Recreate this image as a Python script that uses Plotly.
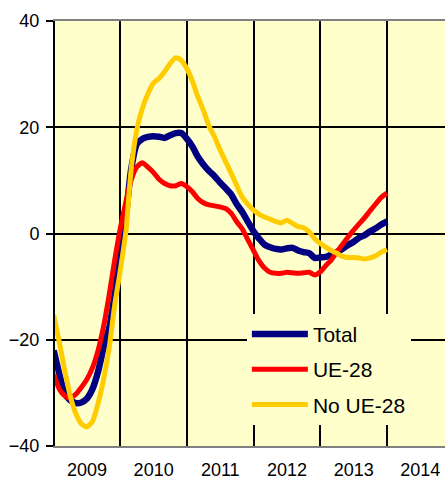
import pandas as pd
import plotly.graph_objects as go

# monthly, Jan 2009 .. Jan 2014
MONTHS = pd.date_range("2009-01-01", "2014-01-01", freq="MS")

TOTAL = [
    -22.0, -26.5, -30.0, -31.4, -31.9, -31.8, -31.1, -29.3, -26.0, -21.5,
    -17.8, -11.5, -4.0, 3.5, 12.0, 16.8, 17.8, 18.2, 18.3, 18.2,
    18.0, 18.5, 18.9, 18.9, 17.8, 16.3, 14.5, 13.0, 11.8, 10.8,
    9.6, 8.5, 7.3, 5.5, 4.0, 2.2, 0.4, -1.0, -2.1, -2.6,
    -2.9, -3.0, -2.8, -2.7, -3.2, -3.5, -3.7, -4.6, -4.5, -4.4,
    -4.0, -3.5, -2.9, -2.2, -1.6, -0.8, -0.3, 0.4, 1.0, 1.7,
    2.3,
]
UE28 = [
    -26.5, -29.3, -30.5, -31.0, -30.3, -29.0, -27.5, -25.3, -22.0, -17.5,
    -11.5, -5.0, 1.0, 6.0, 10.0, 12.5, 13.3, 12.5, 11.5, 10.2,
    9.4, 9.0, 9.0, 9.4, 8.8, 7.8, 6.6, 5.8, 5.4, 5.2,
    5.0, 4.7, 3.8, 2.2, 0.8, -1.2, -3.2, -5.2, -6.5, -7.3,
    -7.5, -7.5, -7.3, -7.4, -7.5, -7.4, -7.3, -7.8, -7.2, -6.0,
    -5.0, -3.5, -2.1, -0.7, 0.6, 1.8, 3.0, 4.3, 5.6, 6.8,
    7.6,
]
NO_UE28 = [
    -15.4, -20.5, -25.5, -30.5, -33.8, -35.8, -36.4, -35.4, -32.0, -27.5,
    -21.5, -13.5, -6.9, 0.5, 12.0, 19.5, 23.5, 26.3, 28.3, 29.2,
    30.5, 32.0, 33.1, 32.6, 31.0, 28.6, 25.8, 23.2, 20.3, 18.2,
    15.8, 13.5, 11.3, 9.0, 6.8, 5.5, 4.4, 3.6, 3.1, 2.7,
    2.3, 2.0, 2.5, 1.9, 1.3, 1.1, 0.3, -1.0, -1.9, -2.6,
    -3.2, -3.7, -4.3, -4.5, -4.5, -4.6, -4.8, -4.6, -4.2, -3.5,
    -3.0,
]

SERIES = [
    ("Total", TOTAL, "#000080", 6.5),
    ("UE-28", UE28, "#FF0000", 5),
    ("No UE-28", NO_UE28, "#FFCC00", 5),
]

BG = "#FFFFCC"

fig = go.Figure()
for i, (name, values, color, width) in enumerate(SERIES):
    fig.add_trace(
        go.Scatter(
            x=MONTHS,
            y=values,
            name=name,
            mode="lines",
            line=dict(color=color, width=width, shape="spline", smoothing=0.6),
            legendgroup=f"g{i}",
        )
    )

fig.update_layout(
    width=445,
    height=479,
    margin=dict(l=55, r=0, t=21, b=33),
    paper_bgcolor="white",
    plot_bgcolor=BG,
    font=dict(family="Arial, Liberation Sans", size=18, color="#000000"),
    hovermode=False,
    legend=dict(
        x=0.492,
        y=0.311,
        xanchor="left",
        yanchor="top",
        bgcolor=BG,
        borderwidth=0,
        font=dict(size=21),
        itemwidth=56,
        tracegroupgap=5,
    ),
)
fig.update_xaxes(
    type="date",
    range=["2009-01-08", "2014-11-15"],
    tick0="2009-01-01",
    dtick="M12",
    tickformat="%Y",
    ticklabelmode="period",
    ticks="",
    showgrid=True,
    gridcolor="black",
    gridwidth=1.5,
    showline=True,
    linecolor="#808080",
    linewidth=2,
    mirror=True,
    ticklabelstandoff=6,
    automargin=False,
)
fig.update_yaxes(
    range=[-40, 40],
    tickvals=[-40, -20, 0, 20, 40],
    showgrid=True,
    gridcolor="black",
    gridwidth=1.5,
    zeroline=True,
    zerolinecolor="black",
    zerolinewidth=1.5,
    showline=True,
    linecolor="black",
    linewidth=2,
    ticks="outside",
    ticklen=7,
    tickcolor="black",
    tickwidth=1.5,
    ticklabelstandoff=3,
    automargin=False,
)

# the page's default 8px body margin would shift the whole chart
fig.write_html(
    "out.html",
    config={"displayModeBar": False},
    post_script="document.body.style.margin='0';",
)
